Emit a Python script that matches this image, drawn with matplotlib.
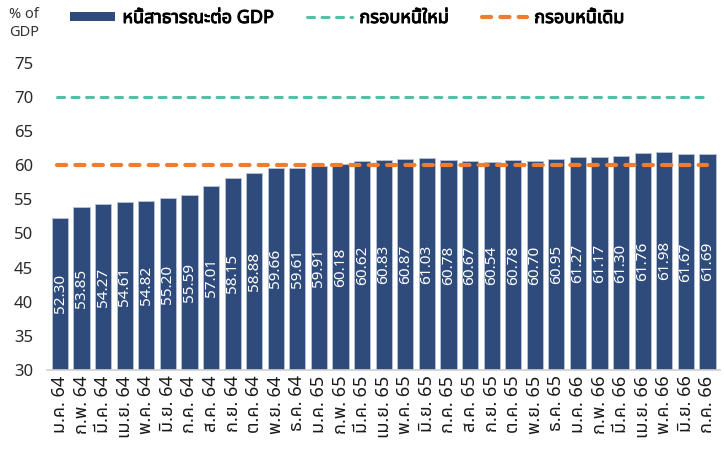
import matplotlib
matplotlib.use("Agg")
import matplotlib.pyplot as plt
from matplotlib import font_manager
from matplotlib.ft2font import FT2Font
from matplotlib.lines import Line2D
from matplotlib.patches import Patch
import matplotlib.patheffects as pe

months = ["ม.ค. 64", "ก.พ. 64", "มี.ค. 64", "เม.ย. 64", "พ.ค. 64", "มิ.ย. 64", "ก.ค. 64",
          "ส.ค. 64", "ก.ย. 64", "ต.ค. 64", "พ.ย. 64", "ธ.ค. 64",
          "ม.ค. 65", "ก.พ. 65", "มี.ค. 65", "เม.ย. 65", "พ.ค. 65", "มิ.ย. 65", "ก.ค. 65",
          "ส.ค. 65", "ก.ย. 65", "ต.ค. 65", "พ.ย. 65", "ธ.ค. 65",
          "ม.ค. 66", "ก.พ. 66", "มี.ค. 66", "เม.ย. 66", "พ.ค. 66", "มิ.ย. 66", "ก.ค. 66"]
debt_to_gdp = [52.30, 53.85, 54.27, 54.61, 54.82, 55.20, 55.59, 57.01, 58.15, 58.88, 59.66, 59.61,
               59.91, 60.18, 60.62, 60.83, 60.87, 61.03, 60.78, 60.67, 60.54, 60.78, 60.70, 60.95,
               61.27, 61.17, 61.30, 61.76, 61.98, 61.67, 61.69]
new_ceiling = 70
old_ceiling = 60
yticks = [30, 35, 40, 45, 50, 55, 60, 65, 70, 75]

# find a font with Thai glyphs
thai_family = None
preferred = ["Noto Sans Thai", "Noto Sans Thai UI", "Tahoma", "Leelawadee UI", "Loma", "Garuda",
             "Sarabun", "Kinnari", "Norasi"]
found = {}
for fe in font_manager.fontManager.ttflist:
    try:
        cm = FT2Font(fe.fname).get_charmap()
        if 0x0E01 in cm and 0x0E2B in cm:
            found.setdefault(fe.name, fe.fname)
    except Exception:
        pass
for p in preferred:
    if p in found:
        thai_family = p
        break
if thai_family is None and found:
    thai_family = sorted(found)[0]
families = ([thai_family] if thai_family else []) + ["DejaVu Sans"]
plt.rcParams["font.family"] = families

bar_color = "#2F4B7C"
teal = "#55BFA6"
orange = "#ED7D31"

fig = plt.figure(figsize=(7.24, 4.5), dpi=100)
ax = fig.add_axes([0.065, 0.178, 0.93, 0.682])

x = list(range(len(months)))
bars = ax.bar(x, debt_to_gdp, width=0.75, color=bar_color, edgecolor="#B8C4D6",
              linewidth=0.6, zorder=2)
ax.bar_label(bars, labels=[f"{v:.2f}" for v in debt_to_gdp], label_type="center",
             rotation=90, color="white", fontsize=11)

teal_style = dict(color=teal, lw=2.2, ls=(0, (2.3, 2.45)), dash_capstyle="round")
orange_style = dict(color=orange, lw=3.0, ls=(0, (2.2, 2.2)), dash_capstyle="round")
ax.plot([-0.15, 30.0], [new_ceiling, new_ceiling], zorder=3, **teal_style)
ax.plot([-0.15, 30.0], [old_ceiling, old_ceiling], zorder=3, **orange_style)

ax.set_xlim(-0.6, 30.6)
ax.set_ylim(30, 75)
ax.set_yticks(yticks)
ax.set_xticks(x)
ax.set_xticklabels(months, rotation=90, fontsize=13, color="#1A1A1A")
ax.tick_params(axis="y", length=0, labelsize=12, labelcolor="#2A2A2A", pad=10)
ax.tick_params(axis="x", length=0, pad=4)
for s in ["top", "right", "left"]:
    ax.spines[s].set_visible(False)
ax.spines["bottom"].set_color("#D0D0D0")
ax.spines["bottom"].set_linewidth(1.2)

fig.text(0.012, 0.985, "% of\nGDP", fontsize=10.5, color="#333333", va="top", ha="left",
         linespacing=1.25)

handles = [Patch(facecolor=bar_color, edgecolor="none"),
           Line2D([], [], **teal_style),
           Line2D([], [], **orange_style)]
labels = ["หนี้สาธารณะต่อ GDP", "กรอบหนี้ใหม่", "กรอบหนี้เดิม"]
leg = fig.legend(handles, labels, loc="center", bbox_to_anchor=(0.48, 0.96), ncol=3,
                 frameon=False, handlelength=2.5, handleheight=0.45, columnspacing=1.8,
                 handletextpad=0.4, prop={"size": 13, "weight": "bold", "family": families})
for t in leg.get_texts():
    t.set_path_effects([pe.withStroke(linewidth=0.7, foreground="black")])

fig.savefig("out.png", dpi=100)
